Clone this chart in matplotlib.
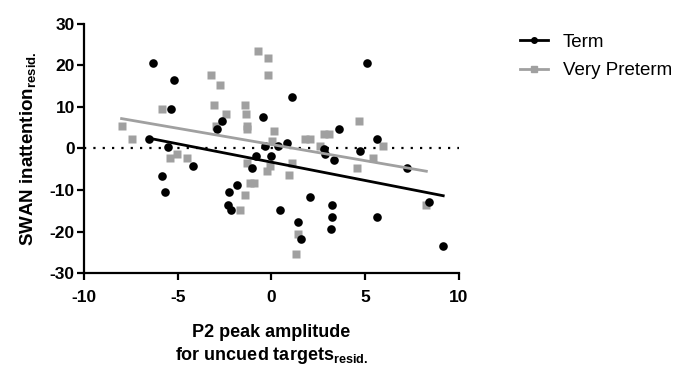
import numpy as np
import matplotlib
matplotlib.use("Agg")
import matplotlib.pyplot as plt
from matplotlib.lines import Line2D

plt.rcParams['font.family'] = ['Liberation Sans', 'DejaVu Sans']
plt.rcParams['mathtext.fontset'] = 'custom'
plt.rcParams['mathtext.rm'] = 'Liberation Sans'
plt.rcParams['mathtext.bf'] = 'Liberation Sans:bold'

# Term (black circles)
term_x = [-6.29, -5.22, -5.33, -6.55, -5.49, -5.81, -5.70, -4.16, -2.66, -2.88,
          -0.43, -0.32, -0.80, 0.00, 0.37, 0.85, 1.07, -1.01, -1.81, -2.24,
          -2.34, -2.13, 0.43, 1.39, 1.55, 2.08, 2.82, 2.88, 3.36, 3.62,
          4.74, 5.11, 5.65, 3.25, 3.25, 3.20, 5.65, 7.25, 8.42, 9.16]
term_y = [20.5, 16.4, 9.4, 2.4, 0.3, -6.6, -10.5, -4.3, 6.5, 4.6,
          7.5, 0.5, -1.7, -1.7, 0.5, 1.4, 12.5, -4.6, -8.7, -10.6,
          -13.5, -14.7, -14.7, -17.6, -21.7, -11.8, -0.2, -1.4, -2.7, 4.6,
          -0.5, 20.5, 2.4, -13.7, -16.6, -19.5, -16.6, -4.6, -12.8, -23.6]

# Very Preterm (grey squares)
vpt_x = [-7.99, -7.46, -5.81, -5.43, -5.06, -4.48, -3.20, -2.72, -3.04, -2.40,
         -2.93, -1.39, -1.33, -1.28, -1.28, -0.69, -0.16, -0.16, 0.16, 0.05,
         1.81, 2.08, 2.82, 3.09, 4.69, 5.97, 2.61, 5.43, 4.58, 1.07,
         0.91, -0.21, -0.05, -1.28, -1.12, -0.91, -1.39, -1.70, 8.26, 1.44, 1.33]
vpt_y = [5.5, 2.4, 9.6, -2.2, -1.4, -2.4, 17.6, 15.4, 10.4, 8.4,
         5.5, 10.4, 8.4, 5.5, 4.6, 23.6, 21.7, 17.6, 4.3, 1.9,
         2.4, 2.4, 3.4, 3.4, 6.5, 0.5, 0.7, -2.4, -4.6, -3.6,
         -6.5, -5.5, -4.3, -3.6, -8.4, -8.4, -11.3, -14.7, -13.7, -20.7, -25.5]

x_ticks = [-10, -5, 0, 5, 10]
y_ticks = [-30, -20, -10, 0, 10, 20, 30]
labels = ['Term', 'Very Preterm']

GREY = '#a0a0a0'

fig = plt.figure(figsize=(6.82, 3.74), dpi=100)
ax = fig.add_axes([0.123, 0.27, 0.550, 0.666])

ax.axhline(0, color='black', lw=1.6, linestyle=(0, (1, 3.2)), zorder=1)

ax.plot(vpt_x, vpt_y, 's', color=GREY, ms=5.3, mec='none', zorder=2)
ax.plot(term_x, term_y, 'o', color='black', ms=6.2, mec='none', zorder=3)

for xs, ys, c in [(vpt_x, vpt_y, GREY), (term_x, term_y, 'black')]:
    xs = np.array(xs); ys = np.array(ys)
    k, b = np.polyfit(xs, ys, 1)
    xx = np.array([xs.min(), xs.max()])
    ax.plot(xx, k * xx + b, color=c, lw=2.0, zorder=4)

ax.set_xlim(-10, 10)
ax.set_ylim(-30, 30)
ax.set_xticks(x_ticks)
ax.set_yticks(y_ticks)
ax.set_xticklabels([str(t) for t in x_ticks], fontweight='bold', fontsize=12.5)
ax.set_yticklabels([str(t) for t in y_ticks], fontweight='bold', fontsize=12.5)
for s in ['top', 'right']:
    ax.spines[s].set_visible(False)
for s in ['left', 'bottom']:
    ax.spines[s].set_linewidth(1.6)
ax.tick_params(direction='out', length=5, width=1.6)
ax.tick_params(axis='x', pad=7)
ax.tick_params(axis='y', pad=1.5)

ax.set_ylabel(r'SWAN inattention$_{\mathbf{resid.}}$', fontweight='bold', fontsize=13.5, labelpad=8)
ax.set_xlabel('P2 peak amplitude\n' + r'for uncued targets$_{\mathbf{resid.}}$',
              fontweight='bold', fontsize=13, labelpad=14, linespacing=1.25)

handles = [Line2D([], [], color='black', lw=2, marker='o', ms=4),
           Line2D([], [], color=GREY, lw=2, marker='s', ms=4)]
fig.legend(handles, labels, loc='upper left', bbox_to_anchor=(0.737, 0.955),
           frameon=False, fontsize=13.5, handlelength=1.5, handletextpad=0.8,
           labelspacing=0.6)

fig.savefig('out.png', dpi=100)
